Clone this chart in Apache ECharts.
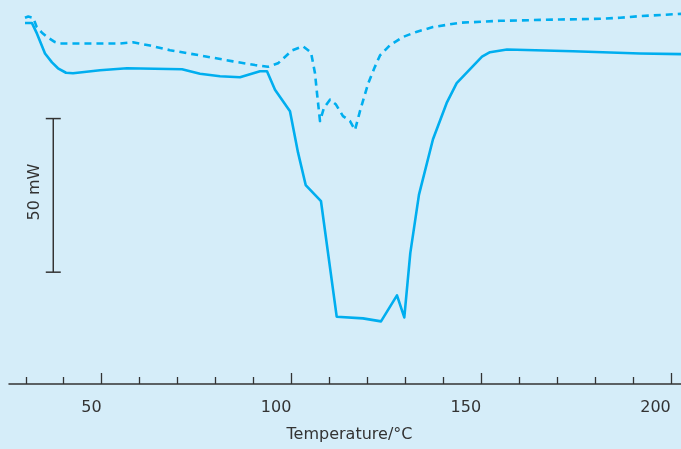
<!DOCTYPE html>
<html>
<head>
<meta charset="utf-8">
<script src="https://cdn.jsdelivr.net/npm/echarts@6/dist/echarts.min.js"></script>
<style>
html,body{margin:0;padding:0;background:#d5edf9;}
#chart{width:681px;height:449px;}
</style>
</head>
<body>
<div id="chart"></div>
<script>
// Solid curve (temperature °C, heat flow mW, arbitrary zero)
const solidTemp = [29.78,31.63,32.95,35.06,36.90,38.48,40.59,42.44,49.55,56.67,71.17,75.91,81.18,86.45,91.72,93.57,95.68,99.63,101.74,103.77,107.80,111.94,118.87,123.62,127.83,129.76,131.34,133.63,137.32,140.93,143.57,150.24,152.35,156.83,174.22,191.88,202.69];
const solidHeat = [117.49,117.49,114.05,107.60,104.70,102.77,101.32,101.16,102.13,102.77,102.45,101.00,100.19,99.87,101.80,101.80,95.78,88.82,75.39,64.76,59.50,21.91,21.36,20.39,28.83,21.68,42.62,61.63,79.67,91.49,97.94,106.54,108.02,108.89,108.34,107.60,107.38];
// Dashed curve
const dashedTemp = [29.78,30.65,31.97,32.87,34.26,35.85,37.69,39.01,41.64,47.71,54.82,58.25,62.73,68.00,75.91,84.61,90.41,93.83,96.47,100.16,103.06,105.17,106.22,106.75,107.54,108.59,110.17,111.76,113.60,115.45,116.76,118.08,120.27,122.04,123.35,125.99,129.41,133.10,137.32,144.44,154.98,170.80,181.34,186.61,191.88,202.69];
const dashedHeat = [119.20,119.62,119.20,116.20,114.37,112.76,111.31,110.82,110.82,110.82,110.82,111.24,110.18,108.67,106.96,105.03,103.83,103.25,104.38,108.57,109.95,107.93,101.16,94.72,85.60,89.88,92.56,90.95,87.21,85.60,82.70,88.82,97.94,103.32,106.96,110.28,112.98,114.69,116.20,117.59,118.23,118.65,118.88,119.20,119.75,120.49];
// Scale bar: 50 mW
const scaleBarHeat = [36.4, 86.4];
const scaleBarLabel = '50 mW';
// Axis ticks
const majorTicks = [50, 100, 150, 200];
const minorTicks = [30, 40, 60, 70, 80, 90, 110, 120, 130, 140, 160, 170, 180, 190];
const xAxisTitle = 'Temperature/°C';

const zip = (a, b) => a.map((v, i) => [v, b[i]]);
const lineColor = '#00aeef';
const axisColor = '#333333';
const font = 'DejaVu Sans';

const chart = echarts.init(document.getElementById('chart'), null, {renderer: 'canvas'});
chart.setOption({
  backgroundColor: '#d5edf9',
  animation: false,
  grid: {left: 9, right: 0, top: -4, bottom: 65, containLabel: false},
  xAxis: [
    {
      type: 'value', min: 25.57, max: 202.69, position: 'bottom',
      axisLine: {show: true, lineStyle: {color: axisColor, width: 1.5}},
      axisTick: {show: true, inside: true, length: 7, customValues: minorTicks, lineStyle: {color: axisColor, width: 1.3}},
      axisLabel: {show: false},
      splitLine: {show: false}
    },
    {
      type: 'value', min: 25.57, max: 202.69, position: 'bottom', offset: 0,
      axisLine: {show: false},
      axisTick: {show: true, inside: true, length: 11, customValues: majorTicks, lineStyle: {color: axisColor, width: 1.3}},
      axisLabel: {show: true, customValues: majorTicks, align: 'right', margin: 16, color: axisColor, fontFamily: font, fontSize: 16},
      splitLine: {show: false}
    }
  ],
  yAxis: {type: 'value', min: 0, max: 125, show: false},
  graphic: [
    {type: 'text', x: 349.5, y: 435, style: {text: xAxisTitle, fill: axisColor, font: '16px "DejaVu Sans"', align: 'center', verticalAlign: 'middle'}},
    {type: 'text', x: 35, y: 192, rotation: Math.PI / 2, style: {text: scaleBarLabel, fill: axisColor, font: '16px "DejaVu Sans"', align: 'center', verticalAlign: 'middle'}}
  ],
  series: [
    {
      type: 'line', xAxisIndex: 0, data: zip(solidTemp, solidHeat), showSymbol: false, symbol: 'none',
      lineStyle: {color: lineColor, width: 2.6, join: 'round'}, silent: true
    },
    {
      type: 'line', xAxisIndex: 0, data: zip(dashedTemp, dashedHeat), showSymbol: false, symbol: 'none',
      lineStyle: {color: lineColor, width: 2.6, type: [7, 5], join: 'round'}, silent: true
    },
    {
      type: 'custom', xAxisIndex: 0, silent: true,
      data: [[37.24, scaleBarHeat[0], scaleBarHeat[1]]],
      renderItem: function (params, api) {
        const lo = api.coord([api.value(0), api.value(1)]);
        const hi = api.coord([api.value(0), api.value(2)]);
        const half = 7.5;
        const st = {stroke: axisColor, lineWidth: 1.5};
        return {type: 'group', children: [
          {type: 'line', shape: {x1: lo[0], y1: lo[1], x2: hi[0], y2: hi[1]}, style: st},
          {type: 'line', shape: {x1: lo[0] - half, y1: lo[1], x2: lo[0] + half, y2: lo[1]}, style: st},
          {type: 'line', shape: {x1: hi[0] - half, y1: hi[1], x2: hi[0] + half, y2: hi[1]}, style: st}
        ]};
      }
    }
  ]
});
</script>
</body>
</html>
